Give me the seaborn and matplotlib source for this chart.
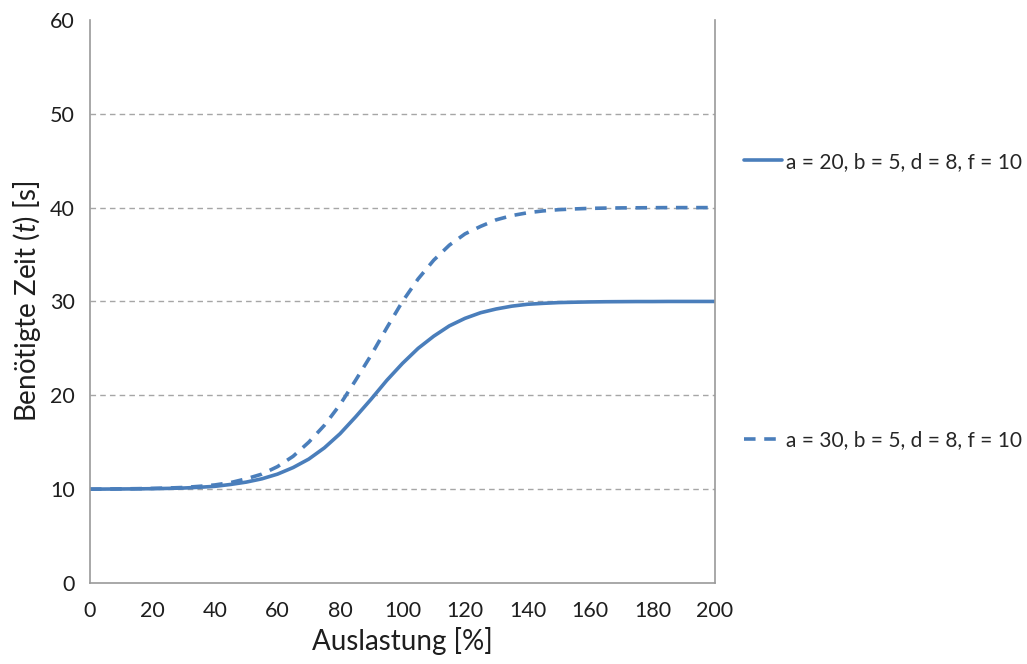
import numpy as np
import pandas as pd
import matplotlib
matplotlib.use("Agg")
import matplotlib.pyplot as plt
from matplotlib.lines import Line2D
import seaborn as sns

# Auslastung in %, step 5
auslastung = list(range(0, 205, 5))

# a = 20, b = 5, d = 8, f = 10
zeit_a20 = [10.0, 10.01, 10.02, 10.03, 10.05, 10.08, 10.12, 10.2, 10.3, 10.5,
            10.75, 11.1, 11.6, 12.3, 13.2, 14.4, 15.9, 17.7, 19.6, 21.6,
            23.4, 25.0, 26.3, 27.4, 28.2, 28.8, 29.2, 29.5, 29.7, 29.8,
            29.88, 29.92, 29.95, 29.97, 29.98, 29.99, 29.99, 30.0, 30.0, 30.0, 30.0]

# a = 30, b = 5, d = 8, f = 10
zeit_a30 = [10.0, 10.01, 10.03, 10.05, 10.08, 10.12, 10.18, 10.3, 10.45, 10.7,
            11.1, 11.6, 12.4, 13.5, 15.0, 16.8, 19.0, 21.6, 24.3, 27.2,
            30.0, 32.4, 34.4, 36.0, 37.2, 38.0, 38.7, 39.15, 39.45, 39.65,
            39.78, 39.86, 39.92, 39.95, 39.97, 39.98, 39.99, 40.0, 40.0, 40.0, 40.0]

labels = ["a = 20, b = 5, d = 8, f = 10", "a = 30, b = 5, d = 8, f = 10"]
x_ticks = list(range(0, 201, 20))
y_ticks = list(range(0, 61, 10))

df = pd.concat([
    pd.DataFrame({"x": auslastung, "y": zeit_a20, "Parameter": labels[0]}),
    pd.DataFrame({"x": auslastung, "y": zeit_a30, "Parameter": labels[1]}),
])

sns.set_theme(style="white")
plt.rcParams["font.family"] = ["Lato", "DejaVu Sans"]
plt.rcParams["mathtext.fontset"] = "custom"
plt.rcParams["mathtext.it"] = "Lato:italic"

blue = "#4a7ebb"
grid_c = "#a6a6a6"
axis_c = "#9a9a9a"
text_c = "#1e1e1e"

fig = plt.figure(figsize=(10.27, 6.64), dpi=100)
ax = fig.add_axes([0.0876, 0.122, 0.6086, 0.848])

sns.lineplot(data=df, x="x", y="y", hue="Parameter", style="Parameter",
             palette=[blue, blue], dashes=[(1, 0), (3.2, 2.4)],
             linewidth=2.6, ax=ax, legend=False, sort=False)
for ln in ax.lines:
    ln.set_solid_capstyle("round")
    ln.set_dash_capstyle("butt")

ax.set_xlim(0, 200)
ax.set_ylim(0, 60)
ax.set_xticks(x_ticks)
ax.set_yticks(y_ticks)
ax.tick_params(axis="both", labelsize=15.5, labelcolor=text_c, color=axis_c,
               length=5, width=1, direction="out", pad=6)
ax.tick_params(axis="x", pad=8)

for yv in y_ticks[1:-1]:
    ax.axhline(yv, color=grid_c, lw=1.0, ls=(0, (4, 3)), zorder=0)

for side in ["left", "bottom", "right"]:
    ax.spines[side].set_visible(True)
    ax.spines[side].set_color(axis_c)
    ax.spines[side].set_linewidth(1.2)
ax.spines["top"].set_visible(False)

ax.set_xlabel("Auslastung [%]", fontsize=20, color=text_c, labelpad=4)
ax.set_ylabel("Benötigte Zeit ($\\it{t}$) [s]", fontsize=20, color=text_c, labelpad=5)

handles = [
    Line2D([], [], color=blue, lw=2.6, solid_capstyle="round"),
    Line2D([], [], color=blue, lw=2.6, dashes=(3.2, 2.4)),
]
fig.legend(handles, labels, loc="upper left", bbox_to_anchor=(0.716, 0.784),
           frameon=False, fontsize=15, handlelength=1.85, handletextpad=0.2,
           labelspacing=12.4, borderaxespad=0)

fig.savefig("out.png", dpi=100, facecolor="white")
